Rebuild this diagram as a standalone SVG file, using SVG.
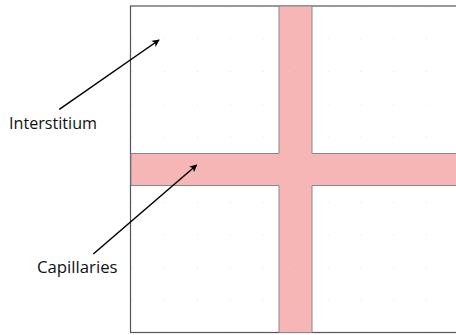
<svg xmlns="http://www.w3.org/2000/svg" width="456" height="335" viewBox="0 0 456 335">
  <defs>
    <style>
      .lbl { font-family: "Open Sans", "Liberation Sans", sans-serif; font-size: 16px; fill: #111; }
      .conn { stroke: #000; stroke-width: 1.5; fill: none; }
    </style>
    <pattern id="dots" x="131.6" y="5.6" width="32.7" height="32.7" patternUnits="userSpaceOnUse">
      <rect x="-0.5" y="-0.5" width="1.2" height="1.2" fill="#8a8a8a" fill-opacity="0.45"/>
    </pattern>
    <marker id="arr" viewBox="0 0 10 10" refX="9" refY="5" markerWidth="7.5" markerHeight="7.5" orient="auto" markerUnits="userSpaceOnUse">
      <path d="M0,0 L10,5 L0,10 L2.5,5 Z" fill="#000"/>
    </marker>
  </defs>
  <rect width="456" height="335" fill="#fff"/>
  <g id="interstitium-region">
    <rect x="130.5" y="6" width="330" height="326.5" fill="#fff" stroke="#555" stroke-width="1.2"/>
  </g>
  <g id="capillaries">
    <path d="M279,6 H312 V153.5 H461 V185.5 H312 V332.5 H279 V185.5 H131 V153.5 H279 Z" fill="#f7b6b6" stroke="#888" stroke-width="1"/>
  </g>
  <rect x="131" y="6" width="330" height="327" fill="url(#dots)"/>
  <g id="connectors">
    <line class="conn" x1="59.3" y1="109.3" x2="159" y2="40" marker-end="url(#arr)"/>
    <line class="conn" x1="93.3" y1="254" x2="196.7" y2="165" marker-end="url(#arr)"/>
  </g>
  <g id="label-interstitium">
    <text class="lbl" x="9" y="129" textLength="88" lengthAdjust="spacingAndGlyphs">Interstitium</text>
  </g>
  <g id="label-capillaries">
    <text class="lbl" x="37" y="272.7" textLength="80.5" lengthAdjust="spacingAndGlyphs">Capillaries</text>
  </g>
</svg>
